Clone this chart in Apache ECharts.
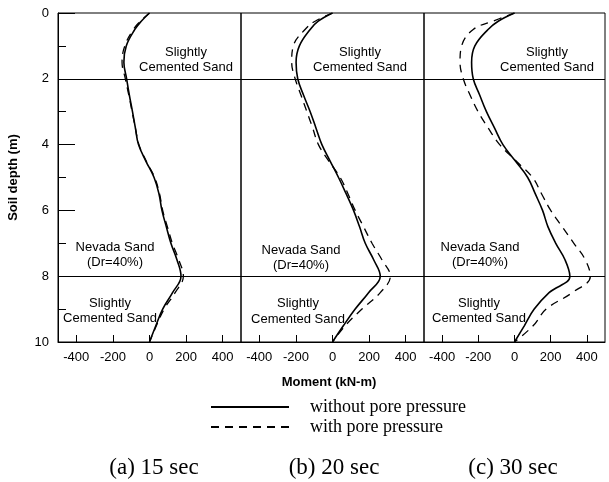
<!DOCTYPE html>
<html>
<head>
<meta charset="utf-8">
<script src="https://cdn.jsdelivr.net/npm/echarts@6/dist/echarts.min.js"></script>
<style>
  html, body { margin: 0; padding: 0; background: #fff; }
  #chart { width: 609px; height: 482px; }
</style>
</head>
<body>
<div id="chart"></div>
<script>
// Depth below ground surface (m), shared by every profile
const depth = [0, 0.25, 0.5, 1, 1.5, 2, 2.5, 3, 3.5, 4, 4.5, 5, 5.5, 6, 6.5, 7, 7.5, 8, 8.5, 9, 9.5, 10];

// Bending moment (kN-m) along the pile at t = 15 s
const m15Without = [0, -45, -80, -127, -140, -125, -110, -93, -77, -60, -20, 25, 52, 68, 92, 117, 150, 172, 126, 72, 35, 0];
const m15With    = [0, -50, -88, -135, -150, -132, -113, -95, -77, -58, -18, 28, 55, 72, 98, 125, 160, 185, 140, 80, 38, 0];

// t = 20 s
const m20Without = [0, -78, -122, -181, -199, -190, -158, -122, -90, -58, -13, 33, 75, 115, 148, 179, 225, 261, 197, 124, 60, 0];
const m20With    = [0, -95, -150, -214, -223, -204, -172, -140, -108, -77, -20, 42, 85, 124, 170, 216, 270, 316, 261, 161, 70, 0];

// t = 30 s
const m30Without = [0, -90, -146, -219, -237, -228, -192, -155, -110, -64, 5, 73, 115, 155, 185, 228, 279, 306, 191, 109, 55, 0];
const m30With    = [0, -120, -228, -292, -301, -283, -245, -201, -145, -82, 9, 100, 150, 200, 264, 328, 391, 419, 319, 175, 104, 0];

const momentTicks = [-400, -200, 0, 200, 400];
const layerBounds = [2, 8];
const panelCaptions = ['(a) 15 sec', '(b) 20 sec', '(c) 30 sec'];
const seriesNames = ['without pore pressure', 'with pore pressure'];
const layerTop = 'Slightly\nCemented Sand';
const layerMid = 'Nevada Sand\n(Dr=40%)';
const layerBottom = 'Slightly\nCemented Sand';
const xTitle = 'Moment (kN-m)';
const yTitle = 'Soil depth (m)';

const profiles = [
  [m15Without, m15With],
  [m20Without, m20With],
  [m30Without, m30With]
];

const SANS = 'Liberation Sans';
const SERIF = 'Liberation Serif';

const panels = [
  { left: 58, width: 183 },
  { left: 241, width: 183 },
  { left: 424, width: 181 }
];

const pairs = arr => arr.map((v, i) => [v, depth[i]]);

const grids = panels.map(p => ({
  left: p.left, width: p.width, top: 13, height: 329,
  show: true, borderColor: '#000', borderWidth: 1, backgroundColor: 'transparent'
}));

const xAxes = panels.map((p, i) => ({
  type: 'value', gridIndex: i, min: -500, max: 500, position: 'bottom',
  axisLine: { show: true, onZero: false, lineStyle: { color: '#000', width: 1 } },
  axisTick: { show: true, inside: true, length: 7, customValues: momentTicks, lineStyle: { color: '#000' } },
  axisLabel: { customValues: momentTicks, color: '#000', fontFamily: SANS, fontSize: 13, margin: 9 },
  splitLine: { show: false }
}));

const yAxes = panels.map((p, i) => ({
  type: 'value', gridIndex: i, min: 0, max: 10, interval: 2, inverse: true, position: 'left',
  name: i === 0 ? yTitle : '',
  nameLocation: 'middle', nameGap: 38,
  nameTextStyle: { fontFamily: SANS, fontSize: 13, fontWeight: 'bold', color: '#000' },
  axisLine: { show: i === 0, onZero: false, lineStyle: { color: '#000', width: 1 } },
  axisTick: { show: i === 0, inside: true, length: 17, lineStyle: { color: '#000' } },
  minorTick: { show: i === 0, splitNumber: 2, length: 8, lineStyle: { color: '#000' } },
  axisLabel: { show: i === 0, color: '#000', fontFamily: SANS, fontSize: 13, margin: 9 },
  splitLine: { show: false }
}));

const series = [];
profiles.forEach((pr, i) => {
  series.push({
    name: seriesNames[0], type: 'line', xAxisIndex: i, yAxisIndex: i,
    data: pairs(pr[0]), smooth: 0.4, symbol: 'none',
    itemStyle: { color: '#000' },
    lineStyle: { color: '#000', width: 1.6, type: 'solid' },
    markLine: {
      silent: true, symbol: 'none', label: { show: false },
      lineStyle: { color: '#000', width: 1, type: 'solid' },
      data: layerBounds.map(d => ({ yAxis: d }))
    },
    z: 3
  });
  series.push({
    name: seriesNames[1], type: 'line', xAxisIndex: i, yAxisIndex: i,
    data: pairs(pr[1]), smooth: 0.4, symbol: 'none',
    itemStyle: { color: '#000' },
    lineStyle: { color: '#000', width: 1.3, type: [8, 6] },
    z: 3
  });
});

const annot = (x, y, text) => ({
  type: 'text', x: x, y: y,
  style: { text: text, font: '13px ' + SANS, fill: '#000', align: 'center', verticalAlign: 'middle', lineHeight: 15.5 }
});

const graphics = [
  annot(186, 60, layerTop), annot(115, 255, layerMid), annot(110, 311, layerBottom),
  annot(360, 60, layerTop), annot(301, 258, layerMid), annot(298, 311.5, layerBottom),
  annot(547, 60, layerTop), annot(480, 255, layerMid), annot(479, 311, layerBottom),
  { type: 'text', x: 329, y: 382, style: { text: xTitle, font: 'bold 13px ' + SANS, fill: '#000', align: 'center', verticalAlign: 'middle' } }
];
const captionX = [154, 334, 513];
panelCaptions.forEach((t, i) => {
  graphics.push({ type: 'text', x: captionX[i], y: 468, style: { text: t, font: '23px ' + SERIF, fill: '#000', align: 'center', verticalAlign: 'middle' } });
});

const chart = echarts.init(document.getElementById('chart'), null, { renderer: 'canvas' });
chart.setOption({
  animation: false,
  backgroundColor: '#fff',
  grid: grids,
  xAxis: xAxes,
  yAxis: yAxes,
  legend: {
    data: seriesNames,
    orient: 'vertical', left: 210, top: 398, padding: 0,
    itemWidth: 78, itemHeight: 14, itemGap: 2,
    itemStyle: { opacity: 0 },
    textStyle: { fontFamily: SERIF, fontSize: 18, color: '#000', padding: [0, 0, 0, 16] },
    selectedMode: false
  },
  graphic: graphics,
  series: series
});
</script>
</body>
</html>
